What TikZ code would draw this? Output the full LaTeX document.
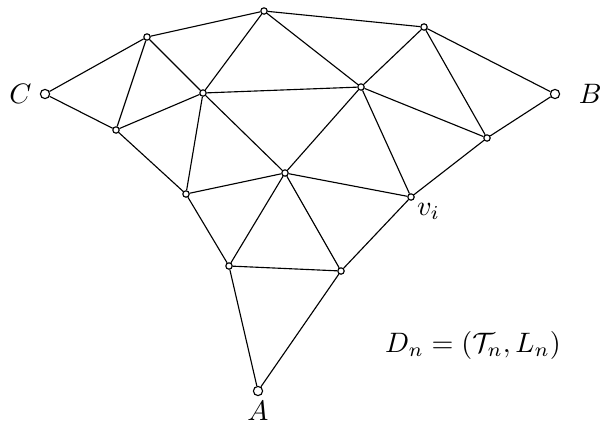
\documentclass[tikz,border=0pt]{standalone}
\usepackage{amsmath,amssymb}

\begin{document}
\begin{tikzpicture}[x=0.0125cm, y=-0.0125cm, every node/.style={font=\normalsize},
	vert/.style={circle, draw, fill=white, inner sep=0pt, minimum size=0.8mm},
	term/.style={circle, draw, fill=white, inner sep=0pt, minimum size=1.15mm}]
	\useasboundingbox (0,0) rectangle (600,423);
	% terminals
	\node[term] (C) at (45,94) {};
	\node[term] (B) at (555,94) {};
	\node[term] (A) at (258,391) {};
	\node[anchor=east] at (C.west) [xshift=0.2mm] {$C$};
	\node[anchor=west] at (B.east) [xshift=1.1mm] {$B$};
	\node[anchor=north] at (A.south) [yshift=0.6mm] {$A$};
	% interior vertices
	\foreach \n/\x/\y in {t/264/11, p/147/37, q/424/27, r/203/93, s/361/87,
		u/116/130, w/487/138, m/285/173, l/186/194, vi/411/197, d/229/266, e/341/271} {
		\node[vert] (\n) at (\x,\y) {};
	}
	\node[anchor=north west, inner sep=1pt] at (vi.south east) {$v_i$};
	% edges
	\foreach \a/\b in {C/p, C/u, p/t, p/u, p/r, t/r, t/q, t/s, r/u, r/s, r/m, r/l,
		u/l, l/m, l/d, m/s, m/vi, m/d, m/e, s/q, s/w, s/vi, q/B, q/w, B/w, w/vi,
		vi/e, d/e, d/A, e/A} {
		\draw (\a) -- (\b);
	}
	\node at (473,345) {$D_n=(\mathcal{T}_n,L_n)$};
\end{tikzpicture}
\end{document}
